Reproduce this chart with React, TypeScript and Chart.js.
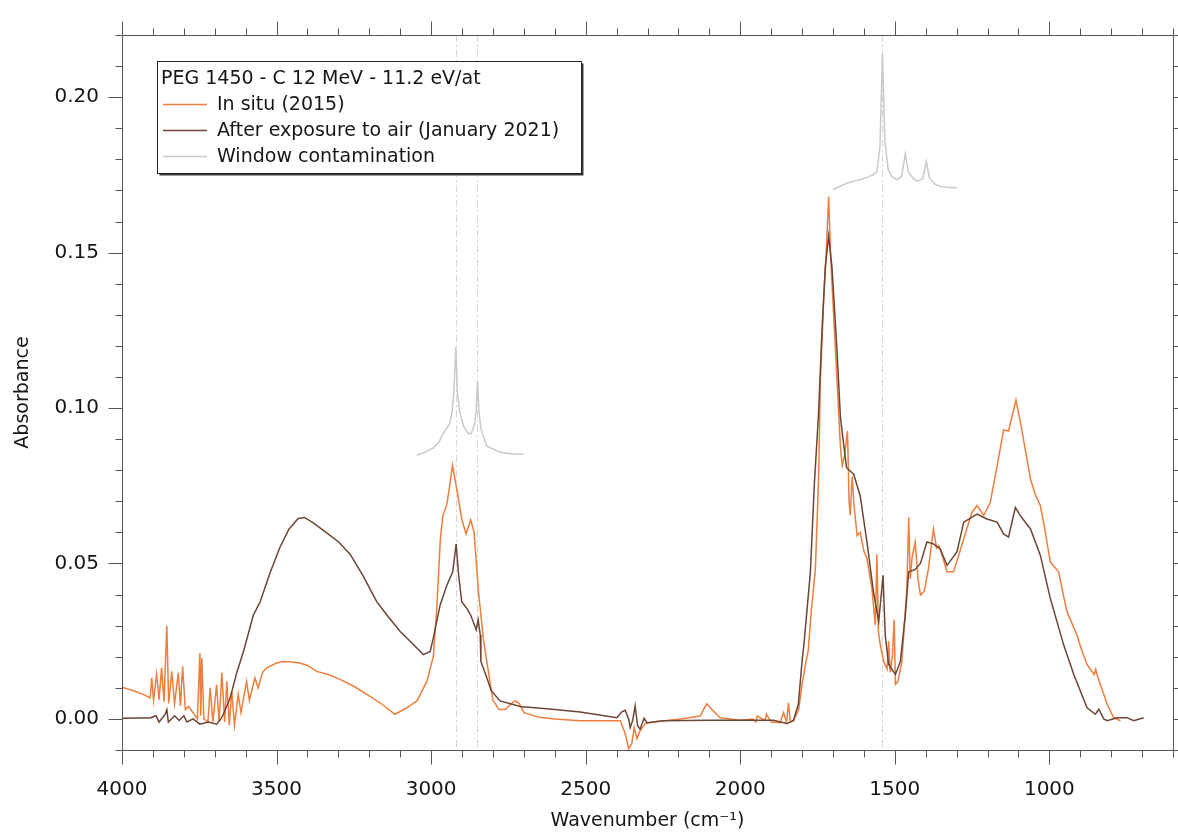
import React, { useEffect, useRef } from 'react';
import { Chart, registerables } from 'chart.js';

Chart.register(...registerables);

const FONT = '"DejaVu Sans", "Noto Sans", sans-serif';
const TEXT = '#161616';
const AXIS = '#555555';

// ---- In situ (2015) ----
const inSituWn = [
  4000, 3960, 3930, 3909, 3904, 3898, 3888, 3880, 3872, 3864,
  3855, 3849, 3839, 3830, 3818, 3811, 3804, 3795, 3785, 3770,
  3756, 3748, 3745, 3742, 3735, 3722, 3715, 3706, 3694, 3686,
  3677, 3668, 3661, 3653, 3645, 3636, 3624, 3615, 3608, 3597,
  3588, 3570, 3560, 3545, 3532, 3500, 3478, 3450, 3424, 3400,
  3370, 3330, 3295, 3250, 3208, 3160, 3117, 3080, 3046, 3014,
  2993, 2982, 2970, 2962, 2949, 2940, 2931, 2917, 2901, 2887,
  2872, 2861, 2847, 2830, 2820, 2800, 2780, 2760, 2740, 2728,
  2715, 2700, 2650, 2600, 2518, 2388, 2372, 2361, 2351, 2343,
  2334, 2324, 2307, 2281, 2194, 2140, 2129, 2119, 2108, 2092,
  2065, 2000, 1960, 1950, 1945, 1920, 1915, 1900, 1871, 1860,
  1850, 1844, 1838, 1828, 1811, 1800, 1790, 1780, 1770, 1757,
  1746, 1741, 1730, 1722, 1714, 1708, 1703, 1692, 1681, 1676,
  1670, 1662, 1653, 1648, 1644, 1638, 1633, 1622, 1612, 1600,
  1590, 1574, 1563, 1558, 1553, 1547, 1536, 1525, 1520, 1515,
  1508, 1502, 1498, 1490, 1477, 1461, 1455, 1450, 1444, 1434,
  1425, 1417, 1405, 1391, 1375, 1365, 1358, 1345, 1331, 1310,
  1295, 1277, 1250, 1234, 1212, 1191, 1169, 1148, 1132, 1108,
  1089, 1075, 1061, 1045, 1029, 1013, 997, 970, 955, 943,
  911, 895, 878, 855, 850, 846, 813, 792, 770,
];
const inSituAbs = [
  0.0102, 0.0090, 0.0078, 0.0068, 0.0132, 0.0060, 0.0143, 0.0062, 0.0164, 0.0055,
  0.0300, 0.0050, 0.0153, 0.0048, 0.0148, 0.0042, 0.0169, 0.0030, 0.0040, 0.0020,
  0.0000, 0.0212, 0.0010, 0.0196, 0.0000, -0.0010, 0.0100, -0.0010, 0.0110, -0.0010,
  0.0148, -0.0010, 0.0121, -0.0020, 0.0089, -0.0020, 0.0079, 0.0020, 0.0060, 0.0121,
  0.0060, 0.0132, 0.0100, 0.0150, 0.0164, 0.0180, 0.0185, 0.0183, 0.0180, 0.0172,
  0.0153, 0.0142, 0.0127, 0.0105, 0.0079, 0.0048, 0.0015, 0.0035, 0.0058, 0.0120,
  0.0200, 0.0350, 0.0580, 0.0654, 0.0690, 0.0750, 0.0816, 0.0739, 0.0643, 0.0595,
  0.0640, 0.0600, 0.0410, 0.0250, 0.0185, 0.0060, 0.0030, 0.0030, 0.0050, 0.0058,
  0.0050, 0.0020, 0.0005, 0.0000, -0.0006, -0.0006, -0.0048, -0.0096, -0.0080, -0.0028,
  -0.0064, -0.0038, -0.0015, -0.0010, 0.0000, 0.0008, 0.0010, 0.0030, 0.0049, 0.0030,
  0.0004, -0.0004, 0.0000, -0.0010, 0.0010, -0.0005, 0.0015, -0.0010, -0.0012, 0.0020,
  -0.0010, 0.0052, -0.0010, -0.0006, 0.0030, 0.0110, 0.0170, 0.0220, 0.0350, 0.0480,
  0.0790, 0.1080, 0.1350, 0.1500, 0.1680, 0.1500, 0.1400, 0.1186, 0.0974, 0.0878,
  0.0815, 0.0850, 0.0926, 0.0700, 0.0655, 0.0780, 0.0700, 0.0590, 0.0600, 0.0540,
  0.0515, 0.0420, 0.0302, 0.0530, 0.0280, 0.0239, 0.0185, 0.0160, 0.0250, 0.0150,
  0.0200, 0.0319, 0.0111, 0.0120, 0.0185, 0.0420, 0.0649, 0.0450, 0.0520, 0.0569,
  0.0450, 0.0399, 0.0410, 0.0484, 0.0611, 0.0550, 0.0558, 0.0520, 0.0473, 0.0473,
  0.0520, 0.0580, 0.0665, 0.0686, 0.0654, 0.0697, 0.0814, 0.0930, 0.0926, 0.1026,
  0.0930, 0.0850, 0.0771, 0.0720, 0.0686, 0.0600, 0.0505, 0.0473, 0.0400, 0.0345,
  0.0270, 0.0220, 0.0175, 0.0143, 0.0160, 0.0143, 0.0047, 0.0004, -0.0006,
];

// ---- After exposure to air (January 2021) ----
const airWn = [
  4000, 3950, 3909, 3890, 3880, 3860, 3855, 3850, 3830, 3815,
  3800, 3790, 3770, 3748, 3720, 3694, 3680, 3672, 3650, 3629,
  3607, 3575, 3553, 3521, 3490, 3460, 3430, 3410, 3380, 3340,
  3300, 3262, 3220, 3176, 3140, 3100, 3068, 3025, 3003, 2993,
  2971, 2949, 2930, 2919, 2912, 2901, 2885, 2872, 2854, 2848,
  2841, 2839, 2825, 2805, 2777, 2712, 2600, 2518, 2450, 2399,
  2383, 2372, 2361, 2356, 2348, 2340, 2332, 2324, 2311, 2302,
  2249, 2100, 1893, 1849, 1828, 1812, 1800, 1793, 1773, 1760,
  1747, 1736, 1725, 1714, 1703, 1687, 1676, 1670, 1656, 1638,
  1633, 1612, 1590, 1569, 1552, 1538, 1531, 1520, 1498, 1482,
  1466, 1455, 1435, 1417, 1396, 1375, 1353, 1331, 1299, 1277,
  1234, 1202, 1169, 1148, 1132, 1110, 1094, 1061, 1029, 997,
  954, 921, 878, 851, 840, 824, 813, 781, 749, 727,
  695,
];
const airAbs = [
  0.0002, 0.0003, 0.0003, 0.0010, -0.0010, 0.0015, 0.0030, -0.0010, 0.0010, -0.0005,
  0.0010, -0.0010, 0.0000, -0.0017, -0.0010, -0.0017, 0.0000, 0.0015, 0.0068, 0.0148,
  0.0217, 0.0334, 0.0377, 0.0470, 0.0550, 0.0610, 0.0645, 0.0648, 0.0630, 0.0600,
  0.0570, 0.0530, 0.0460, 0.0377, 0.0330, 0.0281, 0.0250, 0.0207, 0.0217, 0.0260,
  0.0366, 0.0430, 0.0473, 0.0563, 0.0473, 0.0377, 0.0356, 0.0334, 0.0287, 0.0319,
  0.0270, 0.0185, 0.0147, 0.0090, 0.0058, 0.0040, 0.0030, 0.0022, 0.0012, 0.0004,
  0.0023, 0.0028, 0.0000, -0.0028, -0.0005, 0.0042, -0.0022, -0.0033, 0.0002, -0.0012,
  -0.0006, -0.0004, -0.0004, -0.0015, -0.0006, 0.0047, 0.0185, 0.0250, 0.0473, 0.0760,
  0.0974, 0.1240, 0.1450, 0.1554, 0.1450, 0.1186, 0.0973, 0.0920, 0.0808, 0.0792,
  0.0787, 0.0718, 0.0569, 0.0409, 0.0313, 0.0462, 0.0270, 0.0175, 0.0143, 0.0185,
  0.0334, 0.0473, 0.0480, 0.0500, 0.0569, 0.0563, 0.0547, 0.0494, 0.0537, 0.0633,
  0.0659, 0.0643, 0.0633, 0.0595, 0.0585, 0.0680, 0.0654, 0.0611, 0.0526, 0.0388,
  0.0239, 0.0143, 0.0036, 0.0015, 0.0031, 0.0000, -0.0006, 0.0004, 0.0004, -0.0006,
  0.0004,
];

// ---- Window contamination (two offset segments) ----
const windowWnA = [
  3046, 3020, 2993, 2975, 2960, 2949, 2940, 2932, 2926, 2920,
  2915, 2908, 2895, 2880, 2870, 2860, 2855, 2850, 2845, 2838,
  2820, 2777, 2740, 2701,
];
const windowAbsA = [
  0.0848, 0.0858, 0.0872, 0.0890, 0.0920, 0.0936, 0.0950, 0.0990, 0.1060, 0.1197,
  0.1050, 0.0990, 0.0942, 0.0918, 0.0918, 0.0945, 0.0985, 0.1085, 0.0985, 0.0930,
  0.0878, 0.0858, 0.0853, 0.0851,
];
const windowWnB = [
  1700, 1680, 1655, 1630, 1612, 1590, 1569, 1558, 1548, 1540,
  1532, 1522, 1510, 1493, 1478, 1466, 1456, 1440, 1428, 1410,
  1398, 1388, 1370, 1353, 1330, 1299,
];
const windowAbsB = [
  0.1703, 0.1712, 0.1724, 0.1730, 0.1735, 0.1742, 0.1751, 0.1761, 0.1840, 0.2140,
  0.1860, 0.1770, 0.1745, 0.1735, 0.1745, 0.1817, 0.1760, 0.1738, 0.1730, 0.1738,
  0.1793, 0.1740, 0.1720, 0.1713, 0.1710, 0.1708,
];

// ---- annotations / axes ----
const markerWn = [2920, 2850, 1540];
const xTickValues = [4000, 3500, 3000, 2500, 2000, 1500, 1000];
const yTickValues = [0, 0.05, 0.1, 0.15, 0.2];
const legendTitle = 'PEG 1450 - C 12 MeV - 11.2 eV/at';
const seriesLabels = ['In situ (2015)', 'After exposure to air (January 2021)', 'Window contamination'];
const seriesColors = ['#ef7d3c', '#6b4636', '#c9c9c9'];

const toPoints = (xs: number[], ys: number[]) => xs.map((x, i) => ({ x, y: ys[i] }));

const decorPlugin = {
  id: 'decor',
  beforeDatasetsDraw(chart: any) {
    const { ctx, chartArea: a, scales } = chart;
    const x = scales.x;
    ctx.save();
    ctx.strokeStyle = '#d6d6d6';
    ctx.lineWidth = 1;
    ctx.setLineDash([7, 3, 2, 3]);
    markerWn.forEach((w) => {
      const px = Math.round(x.getPixelForValue(w)) + 0.5;
      ctx.beginPath();
      ctx.moveTo(px, a.top);
      ctx.lineTo(px, a.bottom);
      ctx.stroke();
    });
    ctx.restore();
  },
  afterDraw(chart: any) {
    const { ctx, chartArea: a, scales } = chart;
    const x = scales.x;
    const y = scales.y;
    ctx.save();
    ctx.strokeStyle = AXIS;
    ctx.lineWidth = 1;
    // frame
    const L = Math.round(a.left) + 0.5, R = Math.round(a.right) + 0.5;
    const T = Math.round(a.top) + 0.5, B = Math.round(a.bottom) + 0.5;
    ctx.beginPath();
    ctx.rect(L, T, R - L, B - T);
    ctx.stroke();
    // x ticks (bottom + top, outward)
    ctx.beginPath();
    for (let w = 4000; w >= 600; w -= 100) {
      const len = w % 500 === 0 ? 14 : 7;
      const px = Math.round(x.getPixelForValue(w)) + 0.5;
      ctx.moveTo(px, B); ctx.lineTo(px, B + len);
      ctx.moveTo(px, T); ctx.lineTo(px, T - len);
    }
    // y ticks (left + right, outward)
    for (let i = -1; i <= 22; i++) {
      const len = i % 5 === 0 ? 14 : 7;
      const py = Math.round(y.getPixelForValue(i / 100)) + 0.5;
      ctx.moveTo(L, py); ctx.lineTo(L - len, py);
      ctx.moveTo(R, py); ctx.lineTo(R + len, py);
    }
    ctx.stroke();

    // legend box
    const bx = 157.5, by = 61.5, bw = 424, bh = 112;
    ctx.fillStyle = '#3a3a3a';
    ctx.fillRect(bx + 2, by + 2, bw, bh);
    ctx.fillStyle = '#ffffff';
    ctx.fillRect(bx, by, bw, bh);
    ctx.strokeStyle = '#222222';
    ctx.strokeRect(bx, by, bw, bh);
    ctx.font = `19px ${FONT}`;
    ctx.fillStyle = TEXT;
    ctx.textBaseline = 'middle';
    ctx.textAlign = 'left';
    ctx.fillText(legendTitle, 161, 79);
    const rows = [104.5, 130.5, 156.5];
    rows.forEach((ry, i) => {
      ctx.strokeStyle = seriesColors[i];
      ctx.lineWidth = 1.3;
      ctx.beginPath();
      ctx.moveTo(163, ry);
      ctx.lineTo(207, ry);
      ctx.stroke();
      ctx.fillStyle = TEXT;
      ctx.fillText(seriesLabels[i], 217, ry + 1);
    });
    ctx.restore();
  },
};

export default function App() {
  const canvasRef = useRef<HTMLCanvasElement | null>(null);

  useEffect(() => {
    const canvas = canvasRef.current;
    if (!canvas) return;
    const lineDs = (label: string, pts: any[], color: string, order: number) => ({
      label,
      data: pts,
      borderColor: color,
      backgroundColor: color,
      borderWidth: 1.5,
      pointRadius: 0,
      pointHoverRadius: 0,
      tension: 0,
      fill: false,
      order,
    });
    const chart = new Chart(canvas, {
      type: 'line',
      data: {
        datasets: [
          lineDs(seriesLabels[1], toPoints(airWn, airAbs), seriesColors[1], 0),
          lineDs(seriesLabels[0], toPoints(inSituWn, inSituAbs), seriesColors[0], 1),
          lineDs(seriesLabels[2], toPoints(windowWnA, windowAbsA), seriesColors[2], 2),
          lineDs(seriesLabels[2], toPoints(windowWnB, windowAbsB), seriesColors[2], 3),
        ],
      },
      options: {
        animation: false,
        responsive: false,
        maintainAspectRatio: false,
        events: [],
        layout: { padding: { left: 0, top: 29, right: 5, bottom: 0 } },
        plugins: { legend: { display: false }, tooltip: { enabled: false } },
        scales: {
          x: {
            type: 'linear',
            reverse: true,
            min: 600,
            max: 4000,
            afterBuildTicks: (s: any) => { s.ticks = xTickValues.map((v) => ({ value: v })); },
            afterFit: (s: any) => { s.height = 84; },
            grid: { display: false, drawTicks: false },
            border: { display: false },
            ticks: {
              autoSkip: false,
              maxRotation: 0,
              padding: 28,
              color: TEXT,
              font: { family: FONT, size: 20 },
              callback: (v: any) => String(v),
            },
            title: {
              display: true,
              text: 'Wavenumber (cm⁻¹)',
              color: TEXT,
              font: { family: FONT, size: 19 },
              padding: { top: 0, bottom: 2 },
            },
          },
          y: {
            type: 'linear',
            min: -0.01,
            max: 0.22,
            afterBuildTicks: (s: any) => { s.ticks = yTickValues.map((v) => ({ value: v })); },
            afterFit: (s: any) => { s.width = 122; },
            grid: { display: false, drawTicks: false },
            border: { display: false },
            ticks: {
              autoSkip: false,
              padding: 23,
              color: TEXT,
              font: { family: FONT, size: 20 },
              callback: (v: any) => Number(v).toFixed(2),
            },
            title: {
              display: true,
              text: 'Absorbance',
              color: TEXT,
              font: { family: FONT, size: 19 },
              padding: { top: 12, bottom: 0 },
            },
          },
        },
      },
      plugins: [decorPlugin],
    } as any);
    return () => chart.destroy();
  }, []);

  return (
    <div style={{ position: 'fixed', left: 0, top: 0, width: 1178, height: 834, background: '#ffffff' }}>
      <canvas ref={canvasRef} width={1178} height={834} style={{ display: 'block', width: 1178, height: 834 }} />
    </div>
  );
}
